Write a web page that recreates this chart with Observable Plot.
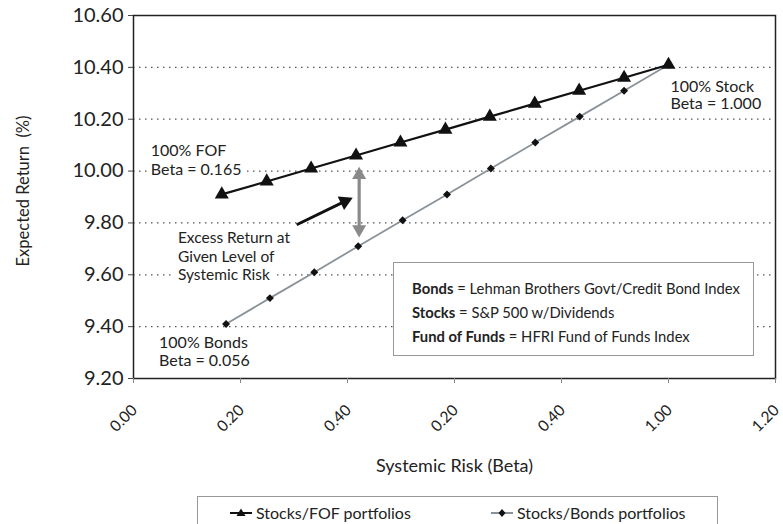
<!DOCTYPE html>
<html><head><meta charset="utf-8">
<script src="https://cdn.jsdelivr.net/npm/d3@7"></script>
<script src="https://cdn.jsdelivr.net/npm/@observablehq/plot@0.6"></script>
<style>
body{margin:0;background:#fff;font-family:Lato,"Open Sans",sans-serif;color:#222;}
#wrap{position:relative;width:783px;height:524px;overflow:hidden;background:#fff;}
#wrap svg{position:absolute;left:0;top:0;overflow:visible;}
#defs{position:absolute;left:393px;top:262px;width:361px;height:94px;border:1px solid #999;background:#fff;box-sizing:border-box;padding:13px 0 0 18px;font-size:14.8px;line-height:24px;white-space:nowrap;}
#legend{position:absolute;left:197px;top:496px;width:521px;height:40px;border:1px solid #999;box-sizing:border-box;font-size:16px;}
.li{position:absolute;top:6px;display:flex;align-items:center;}
.li svg{position:static !important;margin-right:3px;}
</style></head><body><div id="wrap"></div>
<script>
// Data
const fofBeta   = [0.165,0.249,0.332,0.416,0.499,0.583,0.666,0.750,0.833,0.917,1.000];
const fofReturn = [9.91,9.96,10.01,10.06,10.11,10.16,10.21,10.26,10.31,10.36,10.41];
const bondBeta   = [0.173,0.255,0.338,0.420,0.503,0.586,0.668,0.751,0.834,0.917,1.000];
const bondReturn = [9.41,9.51,9.61,9.71,9.81,9.91,10.01,10.11,10.21,10.31,10.41];
const xTicks = [0,0.2,0.4,0.6,0.8,1.0,1.2];
const xTickLabels = ["0.00","0.20","0.40","0.20","0.40","1.00","1.20"];
const yTicks = [9.2,9.4,9.6,9.8,10.0,10.2,10.4,10.6];
const gridTicks = [9.4,9.6,9.8,10.0,10.2,10.4];
const seriesNames = ["Stocks/FOF portfolios","Stocks/Bonds portfolios"];
const defLines = [["Bonds","Lehman Brothers Govt/Credit Bond Index"],["Stocks","S&P 500 w/Dividends"],["Fund of Funds","HFRI Fund of Funds Index"]];
// annotations
const excessText = {x:0.083, y:9.674, text:"Excess Return at\nGiven Level of\nSystemic Risk"};
const blackArrow = {x1:0.305, y1:9.793, x2:0.395, y2:9.883};
const grayArrow = {x:0.4218, y1:9.985, y2:9.775};

const fof = fofBeta.map((b,i)=>({beta:b, ret:fofReturn[i]}));
const bonds = bondBeta.map((b,i)=>({beta:b, ret:bondReturn[i]}));

const W=783, H=490;
const chart = Plot.plot({
  width:W, height:H,
  marginLeft:133, marginRight:8, marginTop:15, marginBottom:112,
  style:{fontFamily:"Lato, 'Open Sans', sans-serif", fontSize:"16px", color:"#222", background:"transparent"},
  x:{domain:[0,1.2]},
  y:{domain:[9.2,10.6]},
  marks:[
    Plot.ruleY(gridTicks, {stroke:"#555", strokeDasharray:"1.5,4.5", strokeWidth:1.2}),
    // annotation texts with white backgrounds (halo)
    Plot.text([excessText], {x:"x", y:"y", text:"text", textAnchor:"start", lineHeight:1.2, fontSize:15.5, stroke:"white", strokeWidth:14, fill:"#222"}),
    Plot.text([fof[0]], {x:"beta", y:"ret", text:()=>"100% FOF\nBeta = 0.165", textAnchor:"start", dx:-71, dy:-35, lineHeight:1.2, fontSize:16, stroke:"white", strokeWidth:10, fill:"#222"}),
    Plot.text([bonds[0]], {x:"beta", y:"ret", text:()=>"100% Bonds\nBeta = 0.056", textAnchor:"start", dx:-67, dy:27, lineHeight:1.15, fontSize:16, stroke:"white", strokeWidth:8, fill:"#222"}),
    Plot.text([fof[fof.length-1]], {x:"beta", y:"ret", text:()=>"100% Stock\nBeta = 1.000", textAnchor:"start", dx:2, dy:30, lineHeight:1.1, fontSize:16, stroke:"white", strokeWidth:8, fill:"#222"}),
    // series
    Plot.line(bonds, {x:"beta", y:"ret", stroke:"#8a9299", strokeWidth:1.8}),
    Plot.dot(bonds, {x:"beta", y:"ret", symbol:"diamond2", r:3.6, fill:"#111", stroke:"none"}),
    Plot.line(fof, {x:"beta", y:"ret", stroke:"#111", strokeWidth:2.2}),
    Plot.dot(fof, {x:"beta", y:"ret", symbol:"triangle", r:5.2, fill:"#111", stroke:"none"}),
    // gray double arrow
    Plot.link([grayArrow], {x1:"x", x2:"x", y1:"y1", y2:"y2", stroke:"#8a8a8a", strokeWidth:3.2}),
    Plot.dot([grayArrow], {x:"x", y:"y1", symbol:"triangle", r:5.2, fill:"#8a8a8a", stroke:"none"}),
    Plot.dot([grayArrow], {x:"x", y:"y2", symbol:"triangle", r:5.2, fill:"#8a8a8a", stroke:"none", rotate:180}),
    // black arrow
    Plot.link([blackArrow], {x1:"x1", y1:"y1", x2:"x2", y2:"y2", stroke:"#111", strokeWidth:3}),
    Plot.dot([blackArrow], {x:"x2", y:"y2", symbol:"triangle", r:5.6, fill:"#111", stroke:"none", rotate:65}),
    Plot.frame({stroke:"#222", strokeWidth:1.5}),
    Plot.axisY({ticks:yTicks, tickFormat:d3.format(".2f"), tickSize:5, tickPadding:5, fontSize:20, stroke:"#444"}),
    Plot.axisX({ticks:xTicks, tickFormat:()=>"", tickSize:5, stroke:"#888"}),
    Plot.text(xTicks, {x:d=>d, frameAnchor:"bottom", text:(d,i)=>xTickLabels[i], rotate:-45, textAnchor:"end", lineAnchor:"middle", dx:1, dy:29, fontSize:15.5, fill:"#222"}),
    Plot.text(["Systemic Risk (Beta)"], {frameAnchor:"bottom", lineAnchor:"middle", textAnchor:"middle", dy:88, fontSize:18, fill:"#222"}),
    Plot.text(["Expected Return\u00a0\u00a0(%)"], {frameAnchor:"left", textAnchor:"middle", lineAnchor:"middle", dx:-110, dy:-6, rotate:-90, fontSize:16.5, fill:"#222"})
  ]
});
const wrap = document.getElementById("wrap");
wrap.appendChild(chart);

// definitions box
const defs = document.createElement("div");
defs.id = "defs";
defs.innerHTML = defLines.map(([k,v])=>`<div><b>${k}</b> = ${v.replace("&","&amp;")}</div>`).join("");
wrap.appendChild(defs);

// legend
const legend = document.createElement("div");
legend.id = "legend";
const icons = [
  `<svg width="24" height="12"><line x1="1" y1="6" x2="23" y2="6" stroke="#111" stroke-width="2"/><path d="M12,1.5 L16.5,9 L7.5,9 Z" fill="#111"/></svg>`,
  `<svg width="24" height="12"><line x1="1" y1="6" x2="23" y2="6" stroke="#8a9299" stroke-width="2"/><path d="M12,2 L15.5,6 L12,10 L8.5,6 Z" fill="#111"/></svg>`
];
const lefts = [31, 292];
seriesNames.forEach((n,i)=>{
  const d = document.createElement("div");
  d.className = "li";
  d.style.left = lefts[i]+"px";
  d.innerHTML = icons[i] + `<span>${n}</span>`;
  legend.appendChild(d);
});
wrap.appendChild(legend);
</script>
</body></html>
